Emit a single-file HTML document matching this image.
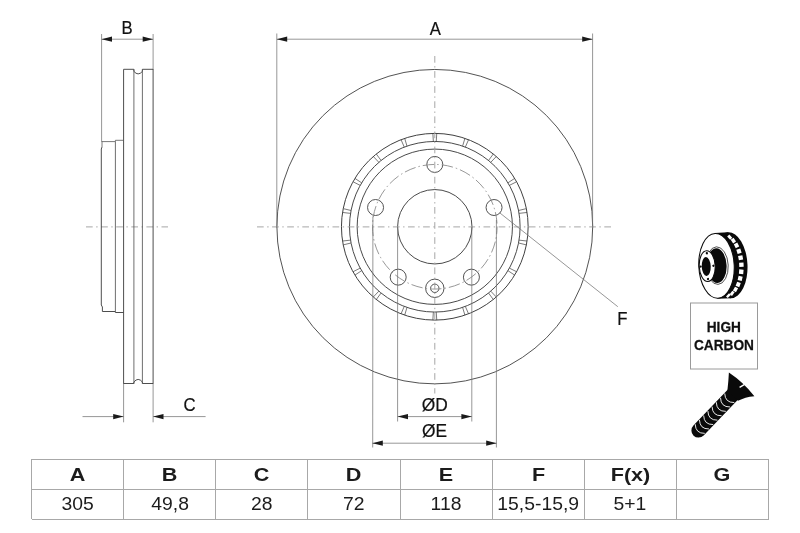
<!DOCTYPE html>
<html lang="en">
<head>
<meta charset="utf-8">
<title>Brake disc dimensions</title>
<style>
html,body{margin:0;padding:0;background:#fff;}
body{width:800px;height:533px;position:relative;overflow:hidden;filter:grayscale(1);font-family:"Liberation Sans",sans-serif;}
svg{position:absolute;left:0;top:0;}
.tbl{position:absolute;left:31px;top:459px;width:738px;height:60px;box-sizing:border-box;border-left:1px solid #a8a8a8;border-top:1px solid #a8a8a8;display:grid;grid-template-columns:repeat(8,1fr);grid-template-rows:30px 30px;}
.c{box-sizing:border-box;border-right:1px solid #a8a8a8;border-bottom:1px solid #a8a8a8;text-align:center;font-size:17.6px;color:#1c1c1c;line-height:29px;white-space:nowrap;}
.c span{display:inline-block;transform-origin:50% 50%;}
.c.h{font-weight:bold;padding-top:1px;font-size:18px;}
.c.h span{transform:scaleX(1.2);}
.c.v span{transform:scaleX(1.10);}
</style>
</head>
<body>
<svg width="800" height="533" viewBox="0 0 800 533">
<g fill="none" stroke="#404040" stroke-width="0.9">
<ellipse cx="434.8" cy="226.65" rx="157.9" ry="157.2"/>
<circle cx="434.8" cy="226.75" r="93.35" stroke-width="1"/>
<circle cx="434.8" cy="226.75" r="85.3" stroke-width="0.95"/>
<circle cx="434.8" cy="226.75" r="77.65" stroke-width="0.95"/>
<circle cx="434.8" cy="226.75" r="37.2" stroke-width="0.95"/>
<circle cx="434.80" cy="164.45" r="8.0"/>
<circle cx="494.05" cy="207.50" r="8.0"/>
<circle cx="471.42" cy="277.15" r="8.0"/>
<circle cx="398.18" cy="277.15" r="8.0"/>
<circle cx="375.55" cy="207.50" r="8.0"/>
<circle cx="434.8" cy="288.3" r="9.2"/>
<circle cx="434.8" cy="288.3" r="4.2"/>
</g>
<g fill="none" stroke="#404040" stroke-width="0.7">
<line x1="432.85" y1="133.40" x2="433.35" y2="141.45"/>
<line x1="436.75" y1="133.40" x2="436.25" y2="141.45"/>
<line x1="464.90" y1="138.36" x2="462.61" y2="146.10"/>
<line x1="468.56" y1="139.70" x2="465.34" y2="147.09"/>
<line x1="493.31" y1="153.99" x2="488.52" y2="160.47"/>
<line x1="496.30" y1="156.49" x2="490.74" y2="162.34"/>
<line x1="514.67" y1="178.39" x2="507.95" y2="182.84"/>
<line x1="516.62" y1="181.76" x2="509.40" y2="185.36"/>
<line x1="526.39" y1="208.62" x2="518.55" y2="210.51"/>
<line x1="527.07" y1="212.46" x2="519.06" y2="213.37"/>
<line x1="527.07" y1="241.04" x2="519.06" y2="240.13"/>
<line x1="526.39" y1="244.88" x2="518.55" y2="242.99"/>
<line x1="516.62" y1="271.74" x2="509.40" y2="268.14"/>
<line x1="514.67" y1="275.11" x2="507.95" y2="270.66"/>
<line x1="496.30" y1="297.01" x2="490.74" y2="291.16"/>
<line x1="493.31" y1="299.51" x2="488.52" y2="293.03"/>
<line x1="468.56" y1="313.80" x2="465.34" y2="306.41"/>
<line x1="464.90" y1="315.14" x2="462.61" y2="307.40"/>
<line x1="436.75" y1="320.10" x2="436.25" y2="312.05"/>
<line x1="432.85" y1="320.10" x2="433.35" y2="312.05"/>
<line x1="404.70" y1="315.14" x2="406.99" y2="307.40"/>
<line x1="401.04" y1="313.80" x2="404.26" y2="306.41"/>
<line x1="376.29" y1="299.51" x2="381.08" y2="293.03"/>
<line x1="373.30" y1="297.01" x2="378.86" y2="291.16"/>
<line x1="354.93" y1="275.11" x2="361.65" y2="270.66"/>
<line x1="352.98" y1="271.74" x2="360.20" y2="268.14"/>
<line x1="343.21" y1="244.88" x2="351.05" y2="242.99"/>
<line x1="342.53" y1="241.04" x2="350.54" y2="240.13"/>
<line x1="342.53" y1="212.46" x2="350.54" y2="213.37"/>
<line x1="343.21" y1="208.62" x2="351.05" y2="210.51"/>
<line x1="352.98" y1="181.76" x2="360.20" y2="185.36"/>
<line x1="354.93" y1="178.39" x2="361.65" y2="182.84"/>
<line x1="373.30" y1="156.49" x2="378.86" y2="162.34"/>
<line x1="376.29" y1="153.99" x2="381.08" y2="160.47"/>
<line x1="401.04" y1="139.70" x2="404.26" y2="147.09"/>
<line x1="404.70" y1="138.36" x2="406.99" y2="146.10"/>
</g>
<circle cx="434.8" cy="226.75" r="62.3" fill="none" stroke="#858585" stroke-width="0.85" stroke-dasharray="11.5 3 1.5 3" stroke-dashoffset="4"/>
<g stroke="#9c9c9c" stroke-width="0.9" stroke-dasharray="6.7 3.5 1.4 3.5" fill="none">
<line x1="257" y1="226.9" x2="612.6" y2="226.9"/>
<line x1="434.8" y1="56" x2="434.8" y2="393.5"/>
<line x1="86" y1="226.9" x2="168" y2="226.9"/>
</g>
<g stroke="#747474" stroke-width="0.75" fill="none">
<line x1="276.8" y1="33.5" x2="276.8" y2="228"/>
<line x1="592.6" y1="33.5" x2="592.6" y2="228"/>
<line x1="276.8" y1="39.2" x2="592.6" y2="39.2"/>
<line x1="397.6" y1="226.75" x2="397.6" y2="421.5"/>
<line x1="471.8" y1="226.75" x2="471.8" y2="421.5"/>
<line x1="372.9" y1="216.5" x2="372.7" y2="447.5"/>
<line x1="496.4" y1="220" x2="496.4" y2="447.5"/>
<line x1="397.6" y1="416.6" x2="471.8" y2="416.6"/>
<line x1="372.4" y1="443.2" x2="496.6" y2="443.2"/>
<line x1="499.7" y1="212.8" x2="617.8" y2="306.7"/>
<line x1="101.6" y1="34" x2="101.6" y2="142"/>
<line x1="153.1" y1="34" x2="153.1" y2="70"/>
<line x1="101.6" y1="39.2" x2="153.1" y2="39.2"/>
<line x1="123.6" y1="383" x2="123.6" y2="422.3"/>
<line x1="153.1" y1="383" x2="153.1" y2="422.3"/>
<line x1="82.5" y1="416.6" x2="123.6" y2="416.6"/>
<line x1="153.1" y1="416.6" x2="205.6" y2="416.6"/>
</g>
<g fill="#1a1a1a" stroke="none">
<polygon points="276.8,39.2 287.2,36.6 287.2,41.800000000000004"/>
<polygon points="592.6,39.2 582.2,36.6 582.2,41.800000000000004"/>
<polygon points="397.6,416.6 408.0,414.0 408.0,419.20000000000005"/>
<polygon points="471.8,416.6 461.40000000000003,414.0 461.40000000000003,419.20000000000005"/>
<polygon points="372.4,443.2 382.79999999999995,440.59999999999997 382.79999999999995,445.8"/>
<polygon points="496.6,443.2 486.20000000000005,440.59999999999997 486.20000000000005,445.8"/>
<polygon points="101.6,39.2 112.0,36.6 112.0,41.800000000000004"/>
<polygon points="153.1,39.2 142.7,36.6 142.7,41.800000000000004"/>
<polygon points="123.6,416.6 113.19999999999999,414.0 113.19999999999999,419.20000000000005"/>
<polygon points="153.1,416.6 163.5,414.0 163.5,419.20000000000005"/>
</g>
<g fill="none" stroke="#454545" stroke-width="0.95">
<path d="M133.9 382 V383.5 H123.6 V69.3 H133.9 V71.4 Q138.15 76.4 142.4 71.4 V69.3 H153.1 V383.5 H142.4 V382 Q138.15 376.8 133.9 382"/>
<path d="M102 147 L101.3 149 V305 L102.4 307 V311.5 H115.4 V312.5 H123.6"/>
<path d="M123.6 140.3 H115.4 V141.6 H102 V147" stroke-width="0.8" stroke="#555"/>
</g>
<g fill="none" stroke="#555" stroke-width="0.85">
<line x1="133.9" y1="69.4" x2="133.9" y2="383.6"/>
<line x1="142.4" y1="69.4" x2="142.4" y2="383.6"/>
<line x1="115.4" y1="141.6" x2="115.4" y2="311.6"/>
</g>
<g font-family="'Liberation Sans', sans-serif" font-size="17.8" fill="#111" stroke="#111" stroke-width="0.2" text-anchor="middle">
<text transform="translate(435.4 34.6) scale(0.94 1)">A</text>
<text transform="translate(127.1 34.4) scale(0.94 1)">B</text>
<text transform="translate(189.6 411.3) scale(0.94 1)">C</text>
<text transform="translate(622.4 325.0) scale(0.94 1)">F</text>
<text transform="translate(434.7 410.7) scale(0.975 1)">ØD</text>
<text transform="translate(434.5 437.4) scale(0.975 1)">ØE</text>
</g>
<g transform="rotate(-2.5 722 265.5)">
<ellipse cx="729.6" cy="265.6" rx="17.9" ry="33" fill="#0a0a0a"/>
<rect x="716" y="232.6" width="13.6" height="4" fill="#0a0a0a"/>
<rect x="716" y="294.6" width="13.6" height="4" fill="#0a0a0a"/>
<rect x="729.52" y="235.30" width="2.86" height="4.4" fill="#fff" transform="rotate(-39.0 730.95 237.50)"/>
<rect x="732.72" y="238.97" width="3.45" height="4.4" fill="#fff" transform="rotate(-31.2 734.44 241.17)"/>
<rect x="735.43" y="243.89" width="3.88" height="4.4" fill="#fff" transform="rotate(-23.4 737.37 246.09)"/>
<rect x="737.48" y="249.81" width="4.17" height="4.4" fill="#fff" transform="rotate(-15.6 739.57 252.01)"/>
<rect x="738.76" y="256.43" width="4.34" height="4.4" fill="#fff" transform="rotate(-7.8 740.94 258.63)"/>
<rect x="739.20" y="263.40" width="4.40" height="4.4" fill="#fff" transform="rotate(0.0 741.40 265.60)"/>
<rect x="738.76" y="270.37" width="4.34" height="4.4" fill="#fff" transform="rotate(7.8 740.94 272.57)"/>
<rect x="737.48" y="276.99" width="4.17" height="4.4" fill="#fff" transform="rotate(15.6 739.57 279.19)"/>
<rect x="735.43" y="282.91" width="3.88" height="4.4" fill="#fff" transform="rotate(23.4 737.37 285.11)"/>
<rect x="732.72" y="287.83" width="3.45" height="4.4" fill="#fff" transform="rotate(31.2 734.44 290.03)"/>
<rect x="729.52" y="291.50" width="2.86" height="4.4" fill="#fff" transform="rotate(39.0 730.95 293.70)"/>
<rect x="725.85" y="293.72" width="2.42" height="4.4" fill="#fff" transform="rotate(46.8 727.06 295.92)"/>
<ellipse cx="716.5" cy="265.6" rx="17.7" ry="32.4" fill="#fff" stroke="#0a0a0a" stroke-width="1.05"/>
<ellipse cx="717.2" cy="265.4" rx="11" ry="18.8" fill="none" stroke="#0a0a0a" stroke-width="0.7"/>
<ellipse cx="716.8" cy="265.4" rx="9.8" ry="17.4" fill="#0a0a0a"/>
<ellipse cx="707.2" cy="265.5" rx="8" ry="15.4" fill="#fff" stroke="#0a0a0a" stroke-width="1.1"/>
<ellipse cx="706.2" cy="265.8" rx="4.5" ry="9.4" fill="#0a0a0a"/>
<circle cx="707.4" cy="252.6" r="1.15" fill="#0a0a0a"/>
<circle cx="713.4" cy="265.4" r="1.15" fill="#0a0a0a"/>
<circle cx="707.4" cy="278.4" r="1.15" fill="#0a0a0a"/>
<circle cx="700.6" cy="265.6" r="1.15" fill="#0a0a0a"/>
</g>
<rect x="690.5" y="303" width="67" height="66" fill="#fff" stroke="#9a9a9a" stroke-width="1"/>
<g font-family="'Liberation Sans', sans-serif" font-weight="bold" font-size="14.4" fill="#111" stroke="#111" stroke-width="0.25" text-anchor="middle">
<text transform="translate(723.8 332.3) scale(0.95 1)">HIGH</text>
<text transform="translate(724 350.3) scale(0.95 1)">CARBON</text>
</g>
<g>
<line x1="733" y1="394.5" x2="698.5" y2="430.5" stroke="#0a0a0a" stroke-width="14.2" stroke-linecap="round"/>
<path d="M728.9 372.6 Q743 382 754.4 396.2 Q745 397 738 400.8 L727.4 390.6 Q728.5 381 728.9 372.6 Z" fill="#0a0a0a"/>
<line x1="739.6" y1="387.4" x2="744.2" y2="384.6" stroke="#fff" stroke-width="1.3"/>
<path d="M724.73 393.43 Q725.00 402.69 734.27 402.57" fill="none" stroke="#fff" stroke-width="0.9"/>
<path d="M720.52 397.83 Q720.79 407.09 730.05 406.97" fill="none" stroke="#fff" stroke-width="0.9"/>
<path d="M716.31 402.23 Q716.57 411.49 725.84 411.37" fill="none" stroke="#fff" stroke-width="0.9"/>
<path d="M712.09 406.63 Q712.36 415.89 721.62 415.77" fill="none" stroke="#fff" stroke-width="0.9"/>
<path d="M707.88 411.03 Q708.15 420.29 717.41 420.17" fill="none" stroke="#fff" stroke-width="0.9"/>
<path d="M703.66 415.43 Q703.93 424.69 713.19 424.57" fill="none" stroke="#fff" stroke-width="0.9"/>
<path d="M699.45 419.83 Q699.72 429.09 708.98 428.97" fill="none" stroke="#fff" stroke-width="0.9"/>
<path d="M695.23 424.23 Q695.50 433.49 704.77 433.37" fill="none" stroke="#fff" stroke-width="0.9"/>
</g>
</svg>
<div class="tbl"><div class="c h"><span>A</span></div><div class="c h"><span>B</span></div><div class="c h"><span>C</span></div><div class="c h"><span>D</span></div><div class="c h"><span>E</span></div><div class="c h"><span>F</span></div><div class="c h"><span>F(x)</span></div><div class="c h"><span>G</span></div><div class="c v"><span>305</span></div><div class="c v"><span>49,8</span></div><div class="c v"><span>28</span></div><div class="c v"><span>72</span></div><div class="c v"><span>118</span></div><div class="c v"><span>15,5-15,9</span></div><div class="c v"><span>5+1</span></div><div class="c v"><span></span></div></div>
</body>
</html>
